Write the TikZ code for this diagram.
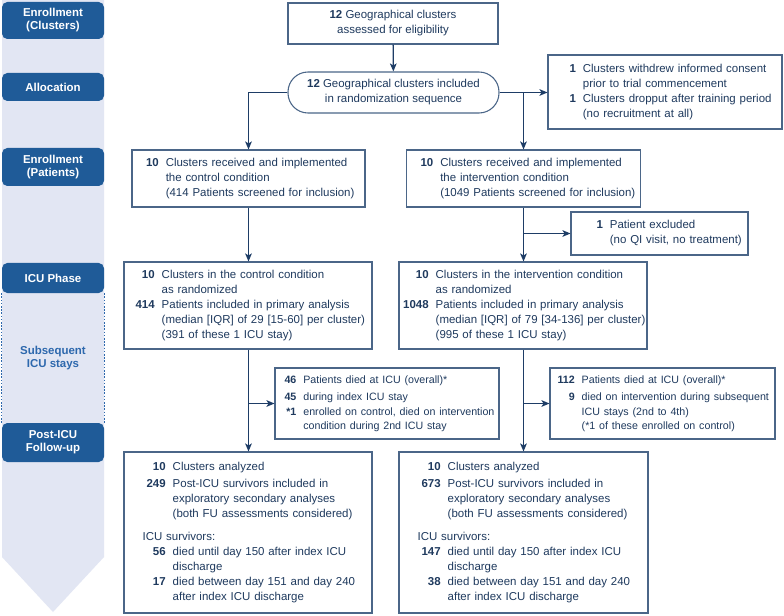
\documentclass[tikz,border=0pt]{standalone}
\usepackage{fontspec}
\setmainfont{Liberation Sans}
\usetikzlibrary{arrows.meta}
\definecolor{txt}{HTML}{1F3A5E}
\definecolor{boxc}{HTML}{4B6688}
\definecolor{linec}{HTML}{1E3D66}
\definecolor{hdrc}{HTML}{1F5B98}
\definecolor{side}{HTML}{E2E6F3}
\definecolor{subc}{HTML}{2D68AD}
\newcommand\nb[1]{\textbf{#1}}
\newcommand\fs{\fontsize{8.6}{11.25}\selectfont}
\newcommand\fsd{\fontsize{8.0}{10.9}\selectfont}
\newcommand\tb[1]{\begin{tabular}{@{}r@{\hspace{5.25pt}}l@{}}#1\end{tabular}}
% name, x1, y1, x2, y2, left pad, content
\newcommand\bx[7]{%
  \pgfmathsetmacro\bxw{(#4-#2)*0.75}%
  \pgfmathsetmacro\bxh{(#5-#3)*0.75}%
  \pgfmathsetmacro\bxp{#6*0.75}%
  \node[box, minimum width=\bxw pt, minimum height=\bxh pt, text width=\bxw pt] (#1) at ({(#2+#4)/2},{(#3+#5)/2}) {\hspace*{\bxp pt}#7};}
% header: name, y1, y2, text
\newcommand\hd[4]{%
  \pgfmathsetmacro\hdh{(#3-#2)*0.75}%
  \node[hdr, minimum height=\hdh pt] (#1) at (53,{(#2+#3)/2}) {#4};}
\begin{document}
\begin{tikzpicture}[x=0.75pt,y=-0.75pt, font=\fs, text=txt,
  box/.style={draw=boxc, line width=0.8pt, inner sep=0pt, align=left},
  cbox/.style={draw=boxc, line width=0.8pt, inner sep=0pt, align=center},
  hdr/.style={fill=hdrc, rounded corners=4pt, minimum width=76.5pt, inner sep=0pt,
    text=white, align=center, font=\fontsize{8.6}{9.75}\selectfont\bfseries},
  arr/.style={draw=linec, line width=1pt, -{Stealth[length=6pt,width=5pt,inset=1.5pt]}}]
\fill[white] (0,0) rectangle (784,616);
\useasboundingbox (0,0) rectangle (784,616);
% sidebar
\fill[side] (2,0) -- (104,0) -- (104,557) -- (53,612) -- (2,557) -- cycle;
\hd{h1}{2}{39}{Enrollment\\(Clusters)}
\hd{h2}{73}{101}{Allocation}
\hd{h3}{148}{186}{Enrollment\\(Patients)}
\hd{h4}{263}{293}{ICU Phase}
\hd{h5}{423}{462}{Post-ICU\\Follow-up}
\node[text=subc, align=center, font=\fontsize{8.6}{9.75}\selectfont\bfseries] (sub) at (53,358) {Subsequent\\ICU stays};
\draw[subc, line width=0.6pt, dash pattern=on 1.2pt off 1.2pt] (h4.south west) -- (h5.north west);
\draw[subc, line width=0.6pt, dash pattern=on 1.2pt off 1.2pt] (h4.south east) -- (h5.north east);
% top boxes
\node[cbox, minimum width=157.5pt, minimum height=30.75pt] (top) at (393,23.5) {\nb{12} Geographical clusters\\assessed for eligibility};
\node[cbox, rounded corners=15pt, minimum width=158.25pt, minimum height=30.75pt] (rand) at (393.5,92.5) {\nb{12} Geographical clusters included\\in randomization sequence};
\bx{excl}{548}{55}{782}{129}{21.5}{\tb{\nb{1} & Clusters withdrew informed consent\\ & prior to trial commencement\\ \nb{1} & Clusters dropput after training period\\ & (no recruitment at all)}}
% enrollment
\bx{cenr}{132}{150}{365}{207}{14}{\tb{\nb{10} & Clusters received and implemented\\ & the control condition\\ & (414 Patients screened for inclusion)}}
\bx{ienr}{406.5}{150}{640.5}{207}{14}{\tb{\nb{10} & Clusters received and implemented\\ & the intervention condition\\ & (1049 Patients screened for inclusion)}}
\bx{pexc}{571}{212}{748}{255}{25.5}{\tb{\nb{1} & Patient excluded\\ & (no QI visit, no treatment)}}
% ICU phase
\bx{cicu}{124}{262}{372}{349}{11.6}{\tb{\nb{10} & Clusters in the control condition\\ & as randomized\\ \nb{414} & Patients included in primary analysis\\ & (median [IQR] of 29 [15-60] per cluster)\\ & (391 of these 1 ICU stay)}}
\bx{iicu}{399}{262}{647}{349}{4.2}{\tb{\nb{10} & Clusters in the intervention condition\\ & as randomized\\ \nb{1048} & Patients included in primary analysis\\ & (median [IQR] of 79 [34-136] per cluster)\\ & (995 of these 1 ICU stay)}}
% deaths
\bx{cdied}{275}{368}{499}{439}{9.5}{{\fsd\tb{\nb{46} & Patients died at ICU (overall)*\\[2pt] \nb{45} & during index ICU stay\\ \nb{*1} & enrolled on control, died on intervention\\ & condition during 2nd ICU stay}}}
\bx{idied}{550}{368}{775}{439}{7.5}{{\fsd\tb{\nb{112} & Patients died at ICU (overall)*\\[2pt] \nb{9} & died on intervention during subsequent\\ & ICU stays (2nd to 4th)\\ & (*1 of these enrolled on control)}}}
% follow-up
\bx{cfu}{124}{452}{372}{613}{22.6}{\tb{\nb{10} & Clusters analyzed\\[1.5pt] \nb{249} & Post-ICU survivors included in\\ & exploratory secondary analyses\\ & (both FU assessments considered)\\[6pt] \multicolumn{2}{@{\hspace{-3pt}}l@{}}{ICU survivors:}\\ \nb{56} & died until day 150 after index ICU\\ & discharge\\ \nb{17} & died between day 151 and day 240\\ & after index ICU discharge}}
\bx{ifu}{399}{452}{648}{613}{22.6}{\tb{\nb{10} & Clusters analyzed\\[1.5pt] \nb{673} & Post-ICU survivors included in\\ & exploratory secondary analyses\\ & (both FU assessments considered)\\[6pt] \multicolumn{2}{@{\hspace{-3pt}}l@{}}{ICU survivors:}\\ \nb{147} & died until day 150 after index ICU\\ & discharge\\ \nb{38} & died between day 151 and day 240\\ & after index ICU discharge}}
% connectors
\coordinate (j1) at (ienr.north |- rand.east);
\draw[arr] (top) -- (rand);
\draw[arr] (rand.west) -| (cenr.north);
\draw[arr] (rand.east) -- (rand.east -| excl.west);
\draw[arr] (j1) -- (ienr.north);
\draw[arr] (cenr.south) -- (cenr.south |- cicu.north);
\draw[arr] (ienr.south) -- (ienr.south |- iicu.north);
\draw[arr] (ienr.south |- pexc.west) -- (pexc.west);
\draw[arr] (cenr.south |- cicu.south) -- (cenr.south |- cfu.north);
\draw[arr] (cenr.south |- cdied.west) -- (cdied.west);
\draw[arr] (ienr.south |- iicu.south) -- (ienr.south |- ifu.north);
\draw[arr] (ienr.south |- idied.west) -- (idied.west);
\end{tikzpicture}
\end{document}
